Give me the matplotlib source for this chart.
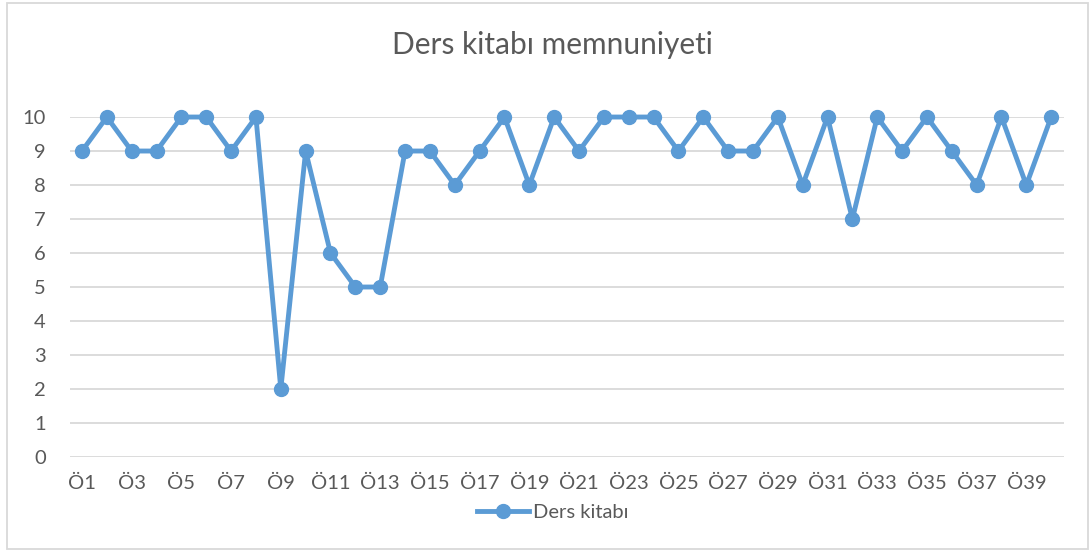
import matplotlib.pyplot as plt
from matplotlib.patches import Rectangle
from matplotlib.lines import Line2D
import numpy as np

plt.rcParams['font.family'] = ['Lato', 'DejaVu Sans']

# Data
students = ['Ö' + str(i) for i in range(1, 41)]
ders_kitabi = [9, 10, 9, 9, 10, 10, 9, 10, 2, 9,
               6, 5, 5, 9, 9, 8, 9, 10, 8, 10,
               9, 10, 10, 10, 9, 10, 9, 9, 10, 8,
               10, 7, 10, 9, 10, 9, 8, 10, 8, 10]

blue = '#5B9BD5'
text_color = '#595959'
grid_color = '#D9D9D9'

fig = plt.figure(figsize=(10.92, 5.52), dpi=100)
ax = fig.add_axes([0.0637, 0.1721, 0.9103, 0.6159])

x_pos = np.arange(len(students))
ax.plot(x_pos, ders_kitabi, color=blue, linewidth=3.5, marker='o',
        markersize=10, clip_on=False, zorder=3, solid_joinstyle='round')

ax.set_xlim(-0.5, len(students) - 0.5)
ax.set_ylim(0, 10)
ax.set_yticks(range(0, 11))
ax.set_xticks(x_pos[::2])
ax.set_xticklabels(students[::2])
ax.tick_params(axis='both', length=0, labelsize=14.5, colors=text_color)
ax.tick_params(axis='y', pad=17)
ax.tick_params(axis='x', pad=13)

# Grid lines
ax.grid(axis='y', color=grid_color, linewidth=1.3)
ax.set_axisbelow(True)
for s in ax.spines.values():
    s.set_visible(False)

fig.text(0.506, 0.918, 'Ders kitabı memnuniyeti', ha='center', va='center',
         fontsize=21.5, color=text_color)

handle = Line2D([], [], color=blue, linewidth=3.5, marker='o', markersize=10)
fig.legend([handle], ['Ders kitabı'], loc='center', bbox_to_anchor=(0.506, 0.072),
           frameon=False, fontsize=14.5, labelcolor=text_color,
           handlelength=2.6, handletextpad=0.2)

# Chart border
fig.patches.append(Rectangle((0.0064, 0.0054), 0.99, 0.99, transform=fig.transFigure,
                             fill=False, edgecolor=grid_color, linewidth=1.3))

plt.savefig('out.png', dpi=100)
